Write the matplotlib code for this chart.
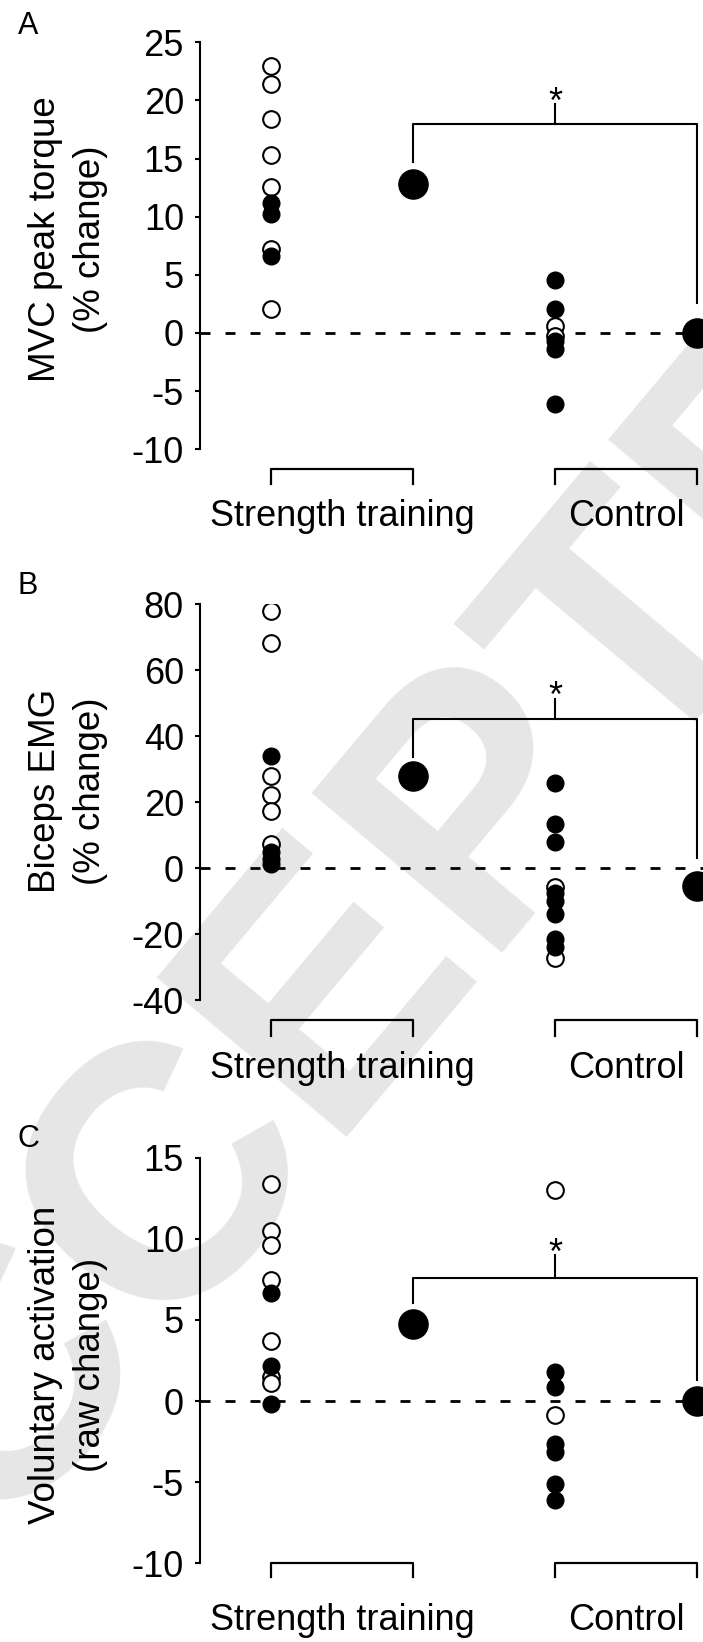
import numpy as np
import matplotlib.pyplot as plt

plt.rcParams['font.family'] = ['Liberation Sans', 'DejaVu Sans']
plt.rcParams['axes.unicode_minus'] = False

# x positions: individual ST, ST mean, individual control, control mean
x_pos = [1, 2, 3, 4]
group_names = ['Strength training', 'Control']

# A - MVC peak torque (% change)
a_st_open = [23.0, 21.45, 18.4, 15.3, 12.6, 7.2, 2.1]
a_st_filled = [11.2, 10.2, 6.6]
a_ctl_open = [0.6, -0.3]
a_ctl_filled = [4.55, 2.05, -0.7, -1.4, -6.15]
a_means = [12.8, 0.0]
a_yticks = [-10, -5, 0, 5, 10, 15, 20, 25]

# B - Biceps EMG (% change)
b_st_open = [78.0, 68.4, 27.9, 22.2, 17.3, 7.5]
b_st_filled = [34.1, 5.0, 3.0, 1.5]
b_ctl_open = [-5.5, -27.0]
b_ctl_filled = [25.8, 13.6, 8.0, -7.5, -10.0, -13.8, -21.5, -23.8]
b_means = [28.1, -5.4]
b_yticks = [-40, -20, 0, 20, 40, 60, 80]

# C - Voluntary activation (raw change)
c_st_open = [13.36, 10.5, 9.63, 7.46, 3.7, 1.5, 1.1]
c_st_filled = [6.64, 2.15, -0.2]
c_ctl_open = [13.0, -0.88]
c_ctl_filled = [1.82, 0.85, -2.62, -3.16, -5.1, -6.07]
c_means = [4.75, 0.0]
c_yticks = [-10, -5, 0, 5, 10, 15]

panels = [
    dict(letter='A', ylabel='MVC peak torque\n(% change)',
         st_open=a_st_open, st_filled=a_st_filled,
         ctl_open=a_ctl_open, ctl_filled=a_ctl_filled,
         means=a_means, yticks=a_yticks,
         rect=(0.2845, 0.7264, 0.7155, 0.2478), ylab_y=0.517, let_y=0.9843,
         sig=(14.75, 17.97, 19.74, 2.62, 18.9),
         grp=(-11.71, -12.99, -16.57)),
    dict(letter='B', ylabel='Biceps EMG\n(% change)',
         st_open=b_st_open, st_filled=b_st_filled,
         ctl_open=b_ctl_open, ctl_filled=b_ctl_filled,
         means=b_means, yticks=b_yticks,
         rect=(0.2845, 0.3907, 0.7155, 0.2412), ylab_y=0.528, let_y=0.6434,
         sig=(33.9, 45.2, 51.4, 3.1, 49.0),
         grp=(-46.0, -50.8, -63.5)),
    dict(letter='C', ylabel='Voluntary activation\n(raw change)',
         st_open=c_st_open, st_filled=c_st_filled,
         ctl_open=c_ctl_open, ctl_filled=c_ctl_filled,
         means=c_means, yticks=c_yticks,
         rect=(0.2845, 0.0479, 0.7155, 0.2471), ylab_y=0.49, let_y=0.3061,
         sig=(6.05, 7.61, 8.98, 1.28, 8.44),
         grp=(-10.0, -10.86, -14.1)),
]

fig = plt.figure(figsize=(7.03, 16.42), dpi=100)

# journal watermark behind everything
fig.text(0.559, 0.4355, 'ACCEPTED', rotation=50, fontsize=260,
         fontweight='bold', color='#e6e6e6', ha='center', va='center',
         rotation_mode='anchor', zorder=-5)

lw = 1.5
for p in panels:
    ax = fig.add_axes(p['rect'])
    ax.patch.set_visible(False)
    ax.set_xlim(0.5, 4.04)
    ax.set_ylim(p['yticks'][0], p['yticks'][-1])

    ax.axhline(0, color='black', lw=2, ls=(0, (3.6, 5.4)), zorder=1)

    # individual subjects: open first, filled drawn over them
    ax.plot([x_pos[0]] * len(p['st_open']), p['st_open'], 'o', ms=12,
            mfc='white', mec='black', mew=1.5, ls='none', zorder=3)
    ax.plot([x_pos[2]] * len(p['ctl_open']), p['ctl_open'], 'o', ms=12,
            mfc='white', mec='black', mew=1.5, ls='none', zorder=3)
    ax.plot([x_pos[0]] * len(p['st_filled']), p['st_filled'], 'o', ms=12,
            color='black', ls='none', zorder=4)
    ax.plot([x_pos[2]] * len(p['ctl_filled']), p['ctl_filled'], 'o', ms=12,
            color='black', ls='none', zorder=4)
    # group means
    ax.plot([x_pos[1], x_pos[3]], p['means'], 'o', ms=21, color='black',
            ls='none', zorder=4, clip_on=False)

    # significance bracket
    lb, top, tick_top, rb, star_y = p['sig']
    ax.plot([x_pos[1], x_pos[1], x_pos[3], x_pos[3]], [lb, top, top, rb],
            color='black', lw=lw, clip_on=False)
    ax.plot([x_pos[2], x_pos[2]], [top, tick_top], color='black', lw=lw)
    ax.text(x_pos[2], star_y, '*', ha='center', va='baseline', fontsize=26)

    # group brackets under the axis
    g_top, g_leg, g_txt = p['grp']
    for (x0, x1), name in zip([(x_pos[0], x_pos[1]), (x_pos[2], x_pos[3])],
                              group_names):
        ax.plot([x0, x0, x1, x1], [g_leg, g_top, g_top, g_leg],
                color='black', lw=1.6, clip_on=False)
        ax.text((x0 + x1) / 2, g_txt, name, ha='center', va='baseline',
                fontsize=26)

    # axes styling
    for s in ['top', 'right', 'bottom']:
        ax.spines[s].set_visible(False)
    ax.spines['left'].set_linewidth(lw)
    ax.set_xticks([])
    ax.set_yticks(p['yticks'])
    ax.tick_params(axis='y', direction='out', length=3.6, width=lw,
                   labelsize=26, pad=8)

    ax.text(-0.2624, p['ylab_y'], p['ylabel'], transform=ax.transAxes,
            rotation=90, ha='center', va='center', multialignment='center',
            fontsize=26.5, linespacing=1.35)
    fig.text(0.0398, p['let_y'], p['letter'], ha='center', va='center',
             fontsize=22)

fig.savefig('out.png', dpi=100)
